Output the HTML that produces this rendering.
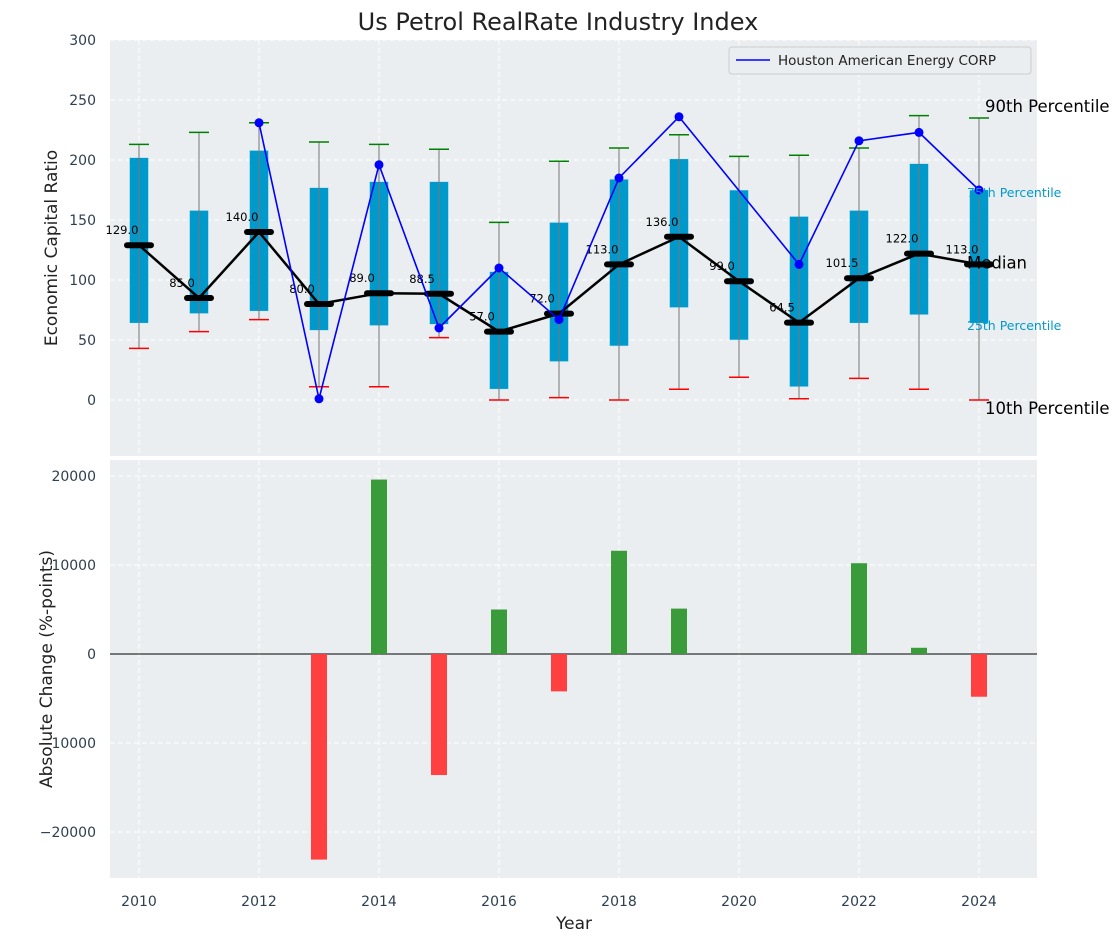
<!DOCTYPE html>
<html><head><meta charset="utf-8"><style>
body{margin:0;background:#fff;font-family:"Liberation Sans","DejaVu Sans",sans-serif;}
</style></head><body>
<svg id="c" width="1120" height="942" xmlns="http://www.w3.org/2000/svg" font-family="DejaVu Sans, Liberation Sans, sans-serif"></svg>
<script>
const years=[2010,2011,2012,2013,2014,2015,2016,2017,2018,2019,2020,2021,2022,2023,2024];
const p90=[213,223,231,215,213,209,148,199,210,221,203,204,210,237,235];
const q75=[202,158,208,177,182,182,107,148,184,201,175,153,158,197,175];
const q25=[64,72,74,58,62,63,9,32,45,77,50,11,64,71,64];
const p10=[43,57,67,11,11,52,0,2,0,9,19,1,18,9,0];
const medians=[129,85,140,80,89,88.5,57,72,113,136,99,64.5,101.5,122,113];
const hae=[null,null,231,1,196,60,110,67,185,236,null,113,216,223,175];
const changes=[0,0,0,-23100,19600,-13600,5000,-4200,11600,5100,0,0,10200,700,-4800];
const topTicks=[0,50,100,150,200,250,300];
const botTicks=[-20000,-10000,0,10000,20000];
const xTicks=[2010,2012,2014,2016,2018,2020,2022,2024];

const NS="http://www.w3.org/2000/svg",svg=document.getElementById('c');
function el(t,a,p){const e=document.createElementNS(NS,t);for(const k in a)e.setAttribute(k,a[k]);(p||svg).appendChild(e);return e;}
const X=v=>139+(v-2010)*60;
const Y1=v=>400-v*1.2;
const Y2=v=>654-v*178/20000;
const L=110,R=1037;
let e=el('rect',{x:L,y:40,width:R-L,height:416,fill:'#eaeef0'});

e=el('rect',{x:L,y:460,width:R-L,height:418,fill:'#eaeef0'});

xTicks.forEach(t=>{
 el('line',{x1:X(t),x2:X(t),y1:40,y2:456,stroke:'#fff','stroke-dasharray':'5,3','stroke-width':1});
 el('line',{x1:X(t),x2:X(t),y1:460,y2:878,stroke:'#fff','stroke-dasharray':'5,3','stroke-width':1});
 e=el('text',{x:X(t),y:906,'text-anchor':'middle','font-size':14,fill:'#2e3f50'});e.textContent=t;
 
});
topTicks.forEach(t=>{
 el('line',{x1:L,x2:R,y1:Y1(t),y2:Y1(t),stroke:'#fff','stroke-dasharray':'5,3'});
 e=el('text',{x:96,y:Y1(t)+5,'text-anchor':'end','font-size':14,fill:'#2e3f50'});e.textContent=t;
 
});
botTicks.forEach(t=>{
 el('line',{x1:L,x2:R,y1:Y2(t),y2:Y2(t),stroke:'#fff','stroke-dasharray':'5,3'});
 e=el('text',{x:96,y:Y2(t)+5,'text-anchor':'end','font-size':14,fill:'#2e3f50'});e.textContent=String(t).replace('-','\u2212');
 
});
years.forEach((y,i)=>{
 const x=X(y);
 e=el('rect',{x:x-9.5,y:Y1(q75[i]),width:19,height:Y1(q25[i])-Y1(q75[i]),fill:'#0099cc',stroke:'#cfe9f3','stroke-width':0.6});
 
 e=el('line',{x1:x,x2:x,y1:Y1(p10[i]),y2:Y1(p90[i]),stroke:'#777','stroke-width':1});
 
 e=el('line',{x1:x-10,x2:x+10,y1:Y1(p90[i]),y2:Y1(p90[i]),stroke:'green','stroke-width':1.5});
 
 e=el('line',{x1:x-10,x2:x+10,y1:Y1(p10[i]),y2:Y1(p10[i]),stroke:'red','stroke-width':1.5});
 
});
e=el('polyline',{points:years.map((y,i)=>X(y)+','+Y1(medians[i])).join(' '),fill:'none',stroke:'#000','stroke-width':2.5});

years.forEach((y,i)=>{
 e=el('line',{x1:X(y)-12,x2:X(y)+12,y1:Y1(medians[i]),y2:Y1(medians[i]),stroke:'#000','stroke-width':6,'stroke-linecap':'round'});
 
 e=el('text',{x:X(y)-17,y:Y1(medians[i])-11,'text-anchor':'middle','font-size':11.5,fill:'#000'});
 e.textContent=medians[i].toFixed(1);
 
});
let pts=[];years.forEach((y,i)=>{if(hae[i]!==null)pts.push([X(y),Y1(hae[i])]);});
e=el('polyline',{points:pts.map(p=>p.join(',')).join(' '),fill:'none',stroke:'#0000ff','stroke-width':1.6});

pts.forEach(p=>{e=el('circle',{cx:p[0],cy:p[1],r:4.5,fill:'#0000ff'});
 });
[['90th Percentile',985,Y1(235)-6,16.5,'#000'],['75th Percentile',967,Y1(175)+7,12.5,'#0099cc'],['Median',967,Y1(113)+4,16.5,'#000'],['25th Percentile',967,Y1(64)+7,12.5,'#0099cc'],['10th Percentile',985,Y1(0)+14,16.5,'#000']].forEach(a=>{
 e=el('text',{x:a[1],y:a[2],'font-size':a[3],fill:a[4]});e.textContent=a[0];
 
});
e=el('g',{});
el('rect',{x:729,y:47,width:302,height:27,fill:'#eaeef0',stroke:'#ccc',rx:3},e);
el('line',{x1:736,x2:770,y1:60,y2:60,stroke:'#0000ff','stroke-width':1.6},e);
let t=el('text',{x:778,y:65,'font-size':13.5,fill:'#222'},e);t.textContent='Houston American Energy CORP';
el('line',{x1:L,x2:R,y1:Y2(0),y2:Y2(0),stroke:'#000','stroke-width':1});
years.forEach((y,i)=>{
 const v=changes[i];if(!v)return;
 e=el('rect',{x:X(y)-8,y:Math.min(Y2(v),Y2(0)),width:16,height:Math.abs(Y2(v)-Y2(0)),fill:v>0?'#3a9b3a':'#ff4040'});
 
});
e=el('text',{x:558,y:30,'text-anchor':'middle','font-size':24,fill:'#222'});e.textContent='Us Petrol RealRate Industry Index';

e=el('text',{x:574,y:929,'text-anchor':'middle','font-size':17,fill:'#222'});e.textContent='Year';

e=el('text',{x:57,y:248,'text-anchor':'middle','font-size':17,fill:'#222',transform:'rotate(-90 57 248)'});e.textContent='Economic Capital Ratio';

e=el('text',{x:52,y:669,'text-anchor':'middle','font-size':17,fill:'#222',transform:'rotate(-90 52 669)'});e.textContent='Absolute Change (%-points)';

</script>
</body></html>
